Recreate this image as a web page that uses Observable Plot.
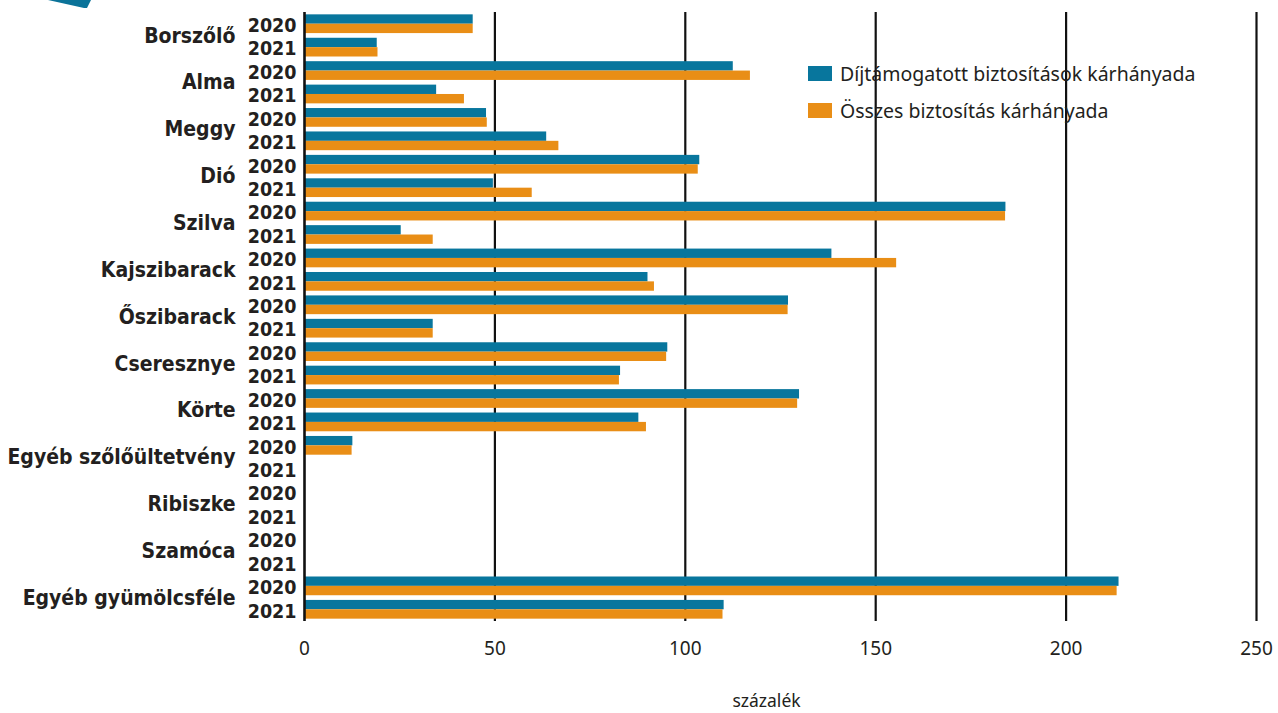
<!DOCTYPE html>
<html>
<head>
<meta charset="utf-8">
<script src="https://cdn.jsdelivr.net/npm/d3@7"></script>
<script src="https://cdn.jsdelivr.net/npm/@observablehq/plot@0.6"></script>
<style>
  html, body { margin: 0; padding: 0; background: #fff; }
  #wrap { position: relative; width: 1278px; height: 713px; overflow: hidden; font-family: "Noto Sans", sans-serif; color: #231f20; }
  #deco { position: absolute; left: 0; top: 0; }
  #legend { position: absolute; left: 808px; top: 60px; }
  .lg-swatch { padding-bottom: 0 !important; margin-bottom: 10px !important; font-size: 19.5px; color: #231f20; }
  .lg-swatch > svg { margin-right: 8px !important; }
</style>
</head>
<body>
<div id="wrap">
  <svg id="deco" width="100" height="12"><polygon points="48,0 91,0 87,8 84,8" fill="#0b7399"></polygon></svg>
  <div id="chart"></div>
  <div id="legend"></div>
</div>
<script>
const categories = ["Borszőlő", "Alma", "Meggy", "Dió", "Szilva", "Kajszibarack", "Őszibarack", "Cseresznye", "Körte", "Egyéb szőlőültetvény", "Ribiszke", "Szamóca", "Egyéb gyümölcsféle"];
const years = ["2020", "2021"];
const seriesNames = ["Díjtámogatott biztosítások kárhányada", "Összes biztosítás kárhányada"];
const seriesColors = ["#08769d", "#e98e16"];
const xTicks = [0, 50, 100, 150, 200, 250];
const axisLabel = "százalék";

// Díjtámogatott biztosítások kárhányada
const dij2020 = [44.3, 112.6, 47.8, 103.8, 184.2, 138.5, 127.1, 95.4, 130.0, 12.7, null, null, 213.9];
const dij2021 = [19.1, 34.7, 63.6, 49.6, 25.4, 90.2, 33.8, 83.0, 87.8, null, null, null, 110.2];
// Összes biztosítás kárhányada
const ossz2020 = [44.3, 117.1, 48.0, 103.4, 184.1, 155.5, 127.0, 95.1, 129.5, 12.5, null, null, 213.4];
const ossz2021 = [19.3, 42.0, 66.8, 59.8, 33.8, 91.9, 33.8, 82.7, 89.8, null, null, null, 109.9];

const key = (c, y) => c + "|" + y;
const rows = [];
categories.forEach((c, i) => {
  rows.push({key: key(c, years[0]), dij: dij2020[i], ossz: ossz2020[i]});
  rows.push({key: key(c, years[1]), dij: dij2021[i], ossz: ossz2021[i]});
});
const yDomain = rows.map(d => d.key);

const font = "'Noto Sans', sans-serif";
const boldFont = "'DejaVu Sans Condensed', 'DejaVu Sans', sans-serif";
const textColor = "#231f20";
const halfBand = 9.37;

const chart = Plot.plot({
  width: 1278,
  height: 713,
  marginLeft: 304,
  marginRight: 22,
  marginTop: 12,
  marginBottom: 92,
  style: {fontFamily: font, color: textColor, background: "#fff", overflow: "visible"},
  x: {domain: [0, 250], ticks: xTicks},
  y: {domain: yDomain, paddingInner: 0.2, paddingOuter: 0.1, round: false},
  marks: [
    Plot.ruleX(xTicks.filter(t => t > 0), {stroke: "#111", strokeWidth: 2.2}),
    Plot.barX(rows.filter(d => d.dij != null), {x: "dij", y: "key", fill: seriesColors[0], insetBottom: halfBand}),
    Plot.barX(rows.filter(d => d.ossz != null), {x: "ossz", y: "key", fill: seriesColors[1], insetTop: halfBand}),
    Plot.ruleX([0], {stroke: "#111", strokeWidth: 2.6}),
    Plot.axisY({tickSize: 0, tickPadding: 8, fontSize: 19.5, fontWeight: "bold", fontFamily: boldFont, dy: 1.5, tickFormat: d => d.split("|")[1], label: null}),
    Plot.text(categories, {y: d => key(d, years[0]), text: d => d, frameAnchor: "left", dx: -69, dy: 11.7, textAnchor: "end", fontSize: 21, fontWeight: "bold", fontFamily: boldFont, fill: textColor}),
    Plot.axisX({tickSize: 0, tickPadding: 20, fontSize: 19, ticks: xTicks, tickFormat: d => String(d), label: null}),
    Plot.text([axisLabel], {frameAnchor: "bottom", dx: -14, dy: 85.5, fontSize: 17.5, fill: textColor})
  ]
});
document.getElementById("chart").appendChild(chart);

const legend = Plot.legend({
  color: {type: "ordinal", domain: seriesNames, range: seriesColors},
  legend: "swatches",
  columns: 1,
  swatchWidth: 24,
  swatchHeight: 15,
  className: "lg",
  style: {fontFamily: font, fontSize: "19.5px", color: textColor}
});
document.getElementById("legend").appendChild(legend);
</script>
</body>
</html>
